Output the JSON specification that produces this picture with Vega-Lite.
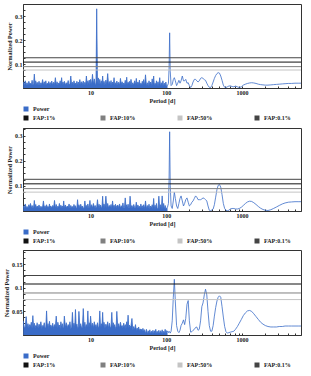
{
"$schema": "https://vega.github.io/schema/vega-lite/v6.json",
"padding": {"left": 3, "top": 3, "right": 2, "bottom": 1},
"spacing": 3,
"config": {
"font": "Liberation Serif",
"view": {"stroke": "#333", "strokeWidth": 1},
"axis": {"labelFont": "Liberation Serif", "labelFontWeight": "bold", "labelFontSize": 6, "titleFont": "Liberation Serif", "titleFontWeight": "bold", "titleFontSize": 6, "labelColor": "#222", "titleColor": "#222", "domainColor": "#333", "tickColor": "#333", "grid": false, "labelPadding": 3, "titlePadding": 2, "labelOverlap": false},
"legend": {"labelFont": "Liberation Serif", "labelFontWeight": "bold", "labelFontSize": 6, "labelColor": "#222", "symbolSize": 25, "labelOffset": 4, "rowPadding": 2, "columnPadding": 40, "gridAlign": "all", "orient": "bottom", "offset": 3, "padding": 0, "layout": {"bottom": {"anchor": "start", "direction": "vertical", "margin": 3}}}
},
"datasets": {
"fap": [{"f": "FAP:1%", "v": 0.108}, {"f": "FAP:10%", "v": 0.089}, {"f": "FAP:50%", "v": 0.075}, {"f": "FAP:0.1%", "v": 0.126}],
"pg": [
{"p":1.30,"a":0.025,"b":0.02,"c":0.03},{"p":1.34,"a":0.012,"b":0.012,"c":0.016},{"p":1.38,"a":0.03,"b":0.028,"c":0.017},{"p":1.42,"a":0.014,"b":0.014,"c":0.039},{"p":1.46,"a":0.022,"b":0.018,"c":0.017},{"p":1.50,"a":0.011,"b":0.011,"c":0.024},{"p":1.54,"a":0.028,"b":0.025,"c":0.015},{"p":1.58,"a":0.016,"b":0.015,"c":0.022},{"p":1.62,"a":0.02,"b":0.03,"c":0.018},{"p":1.66,"a":0.012,"b":0.012,"c":0.027},{"p":1.70,"a":0.032,"b":0.022,"c":0.014},{"p":1.74,"a":0.014,"b":0.014,"c":0.041},{"p":1.78,"a":0.018,"b":0.016,"c":0.016},{"p":1.82,"a":0.058,"b":0.042,"c":0.025},{"p":1.86,"a":0.013,"b":0.013,"c":0.015},{"p":1.90,"a":0.03,"b":0.026,"c":0.02},{"p":1.94,"a":0.012,"b":0.011,"c":0.017},{"p":1.98,"a":0.024,"b":0.02,"c":0.026},
{"p":2.04,"a":0.013,"b":0.014,"c":0.015},{"p":2.10,"a":0.028,"b":0.024,"c":0.023},{"p":2.16,"a":0.011,"b":0.011,"c":0.017},{"p":2.22,"a":0.022,"b":0.019,"c":0.028},{"p":2.28,"a":0.015,"b":0.015,"c":0.014},{"p":2.34,"a":0.035,"b":0.016,"c":0.02},{"p":2.40,"a":0.012,"b":0.04,"c":0.018},{"p":2.46,"a":0.026,"b":0.012,"c":0.026},{"p":2.52,"a":0.014,"b":0.021,"c":0.015},{"p":2.58,"a":0.03,"b":0.011,"c":0.016},{"p":2.64,"a":0.011,"b":0.025,"c":0.051},{"p":2.70,"a":0.02,"b":0.015,"c":0.016},{"p":2.76,"a":0.016,"b":0.018,"c":0.024},{"p":2.82,"a":0.027,"b":0.012,"c":0.014},{"p":2.88,"a":0.012,"b":0.028,"c":0.029},{"p":2.94,"a":0.023,"b":0.014,"c":0.017},{"p":3.00,"a":0.014,"b":0.02,"c":0.021},
{"p":3.09,"a":0.029,"b":0.012,"c":0.016},{"p":3.18,"a":0.012,"b":0.022,"c":0.025},{"p":3.27,"a":0.024,"b":0.014,"c":0.014},{"p":3.36,"a":0.015,"b":0.042,"c":0.022},{"p":3.45,"a":0.043,"b":0.011,"c":0.017},{"p":3.54,"a":0.011,"b":0.026,"c":0.04},{"p":3.63,"a":0.026,"b":0.013,"c":0.015},{"p":3.72,"a":0.013,"b":0.019,"c":0.027},{"p":3.81,"a":0.021,"b":0.015,"c":0.018},{"p":3.90,"a":0.016,"b":0.03,"c":0.021},{"p":3.99,"a":0.03,"b":0.012,"c":0.014},{"p":4.08,"a":0.012,"b":0.023,"c":0.028},{"p":4.17,"a":0.043,"b":0.014,"c":0.016},{"p":4.26,"a":0.014,"b":0.02,"c":0.024},{"p":4.35,"a":0.025,"b":0.011,"c":0.015},{"p":4.44,"a":0.011,"b":0.04,"c":0.017},{"p":4.53,"a":0.028,"b":0.013,"c":0.04},
{"p":4.67,"a":0.013,"b":0.024,"c":0.016},{"p":4.81,"a":0.022,"b":0.012,"c":0.026},{"p":4.95,"a":0.015,"b":0.02,"c":0.015},{"p":5.09,"a":0.031,"b":0.015,"c":0.022},{"p":5.23,"a":0.012,"b":0.028,"c":0.018},{"p":5.37,"a":0.017,"b":0.011,"c":0.028},{"p":5.51,"a":0.05,"b":0.022,"c":0.014},{"p":5.65,"a":0.014,"b":0.014,"c":0.017},{"p":5.79,"a":0.024,"b":0.018,"c":0.048},{"p":5.93,"a":0.011,"b":0.012,"c":0.016},{"p":6.07,"a":0.03,"b":0.026,"c":0.025},{"p":6.21,"a":0.016,"b":0.013,"c":0.015},{"p":6.35,"a":0.021,"b":0.021,"c":0.054},{"p":6.49,"a":0.013,"b":0.011,"c":0.017},{"p":6.63,"a":0.028,"b":0.014,"c":0.023},{"p":6.77,"a":0.012,"b":0.045,"c":0.014},{"p":6.91,"a":0.025,"b":0.014,"c":0.017},{"p":7.05,"a":0.014,"b":0.025,"c":0.05},
{"p":7.25,"a":0.035,"b":0.012,"c":0.017},{"p":7.45,"a":0.012,"b":0.027,"c":0.024},{"p":7.65,"a":0.026,"b":0.014,"c":0.015},{"p":7.85,"a":0.015,"b":0.02,"c":0.017},{"p":8.05,"a":0.029,"b":0.011,"c":0.056},{"p":8.25,"a":0.011,"b":0.013,"c":0.016},{"p":8.45,"a":0.024,"b":0.04,"c":0.027},{"p":8.65,"a":0.014,"b":0.013,"c":0.014},{"p":8.85,"a":0.05,"b":0.022,"c":0.022},{"p":9.05,"a":0.013,"b":0.012,"c":0.017},{"p":9.25,"a":0.03,"b":0.028,"c":0.051},{"p":9.45,"a":0.016,"b":0.015,"c":0.015},{"p":9.65,"a":0.033,"b":0.014,"c":0.026},{"p":9.85,"a":0.012,"b":0.042,"c":0.016},{"p":10.05,"a":0.036,"b":0.013,"c":0.04},
{"p":10.35,"a":0.014,"b":0.025,"c":0.016},{"p":10.65,"a":0.057,"b":0.012,"c":0.025},{"p":10.95,"a":0.016,"b":0.03,"c":0.015},{"p":11.25,"a":0.038,"b":0.014,"c":0.028},{"p":11.55,"a":0.018,"b":0.022,"c":0.017},{"p":11.85,"a":0.015,"b":0.011,"c":0.022},{"p":12.1,"a":0.33,"b":0.016,"c":0.014},{"p":12.4,"a":0.012,"b":0.045,"c":0.026},{"p":12.7,"a":0.042,"b":0.013,"c":0.016},{"p":13.0,"a":0.015,"b":0.027,"c":0.018},{"p":13.3,"a":0.036,"b":0.012,"c":0.051},{"p":13.6,"a":0.013,"b":0.024,"c":0.015},{"p":13.9,"a":0.03,"b":0.015,"c":0.024},{"p":14.2,"a":0.012,"b":0.014,"c":0.017},{"p":14.5,"a":0.05,"b":0.059,"c":0.048},{"p":14.8,"a":0.014,"b":0.013,"c":0.016},{"p":15.1,"a":0.028,"b":0.028,"c":0.027},
{"p":15.55,"a":0.013,"b":0.014,"c":0.015},{"p":16.0,"a":0.033,"b":0.059,"c":0.023},{"p":16.45,"a":0.015,"b":0.013,"c":0.017},{"p":16.9,"a":0.06,"b":0.03,"c":0.028},{"p":17.35,"a":0.012,"b":0.012,"c":0.014},{"p":17.8,"a":0.027,"b":0.022,"c":0.025},{"p":18.25,"a":0.014,"b":0.015,"c":0.016},{"p":18.7,"a":0.031,"b":0.026,"c":0.018},{"p":19.15,"a":0.011,"b":0.011,"c":0.048},{"p":19.6,"a":0.025,"b":0.04,"c":0.015},{"p":20.05,"a":0.016,"b":0.014,"c":0.026},{"p":20.5,"a":0.043,"b":0.023,"c":0.017},{"p":20.95,"a":0.013,"b":0.012,"c":0.022},{"p":21.4,"a":0.022,"b":0.027,"c":0.014},{"p":21.85,"a":0.012,"b":0.013,"c":0.017},{"p":22.3,"a":0.029,"b":0.02,"c":0.05},
{"p":22.95,"a":0.014,"b":0.024,"c":0.016},{"p":23.6,"a":0.024,"b":0.013,"c":0.024},{"p":24.25,"a":0.011,"b":0.028,"c":0.014},{"p":24.9,"a":0.04,"b":0.011,"c":0.027},{"p":25.55,"a":0.015,"b":0.021,"c":0.017},{"p":26.2,"a":0.026,"b":0.014,"c":0.02},{"p":26.85,"a":0.012,"b":0.032,"c":0.015},{"p":27.5,"a":0.021,"b":0.012,"c":0.025},{"p":28.15,"a":0.014,"b":0.015,"c":0.016},{"p":28.8,"a":0.032,"b":0.052,"c":0.022},{"p":29.45,"a":0.011,"b":0.013,"c":0.014},{"p":30.1,"a":0.045,"b":0.025,"c":0.028},{"p":30.75,"a":0.013,"b":0.011,"c":0.017},{"p":31.4,"a":0.024,"b":0.027,"c":0.042},{"p":32.05,"a":0.016,"b":0.014,"c":0.015},{"p":32.7,"a":0.028,"b":0.012,"c":0.021},{"p":33.35,"a":0.012,"b":0.059,"c":0.016},
{"p":34.3,"a":0.036,"b":0.013,"c":0.02},{"p":35.3,"a":0.013,"b":0.022,"c":0.035},{"p":36.3,"a":0.022,"b":0.012,"c":0.01},{"p":37.3,"a":0.011,"b":0.026,"c":0.018},{"p":38.3,"a":0.03,"b":0.014,"c":0.011},{"p":39.3,"a":0.014,"b":0.013,"c":0.022},{"p":40.3,"a":0.04,"b":0.035,"c":0.009},{"p":41.3,"a":0.012,"b":0.011,"c":0.015},{"p":42.3,"a":0.025,"b":0.024,"c":0.01},{"p":43.3,"a":0.015,"b":0.014,"c":0.017},{"p":44.3,"a":0.033,"b":0.019,"c":0.009},{"p":45.3,"a":0.011,"b":0.012,"c":0.013},{"p":46.3,"a":0.02,"b":0.028,"c":0.01},{"p":47.3,"a":0.013,"b":0.013,"c":0.012},{"p":48.3,"a":0.028,"b":0.021,"c":0.009},{"p":49.3,"a":0.012,"b":0.011,"c":0.014},{"p":50.3,"a":0.035,"b":0.025,"c":0.009},
{"p":51.8,"a":0.011,"b":0.01,"c":0.011},{"p":53.3,"a":0.055,"b":0.04,"c":0.003},{"p":54.8,"a":0.01,"b":0.009,"c":0.012},{"p":56.3,"a":0.022,"b":0.022,"c":0.002},{"p":57.8,"a":0.008,"b":0.011,"c":0.009},{"p":59.3,"a":0.03,"b":0.027,"c":0.004},{"p":60.8,"a":0.012,"b":0.008,"c":0.011},{"p":62.3,"a":0.025,"b":0.02,"c":0.002},{"p":63.8,"a":0.009,"b":0.012,"c":0.008},{"p":65.3,"a":0.038,"b":0.025,"c":0.003},{"p":66.8,"a":0.013,"b":0.009,"c":0.01},{"p":68.3,"a":0.05,"b":0.05,"c":0.002},{"p":69.8,"a":0.008,"b":0.01,"c":0.009},{"p":71.3,"a":0.02,"b":0.023,"c":0.003},{"p":72.8,"a":0.01,"b":0.008,"c":0.012},{"p":74.3,"a":0.03,"b":0.03,"c":0.002},{"p":75.8,"a":0.009,"b":0.011,"c":0.008},
{"p":77.9,"a":0.026,"b":0.008,"c":0.003},{"p":80.0,"a":0.009,"b":0.059,"c":0.01},{"p":82.1,"a":0.043,"b":0.007,"c":0.002},{"p":84.2,"a":0.007,"b":0.025,"c":0.009},{"p":86.3,"a":0.022,"b":0.009,"c":0.003},{"p":88.4,"a":0.01,"b":0.06,"c":0.011},{"p":90.5,"a":0.03,"b":0.008,"c":0.002},{"p":92.6,"a":0.006,"b":0.03,"c":0.008},{"p":94.7,"a":0.02,"b":0.007,"c":0.003},{"p":96.8,"a":0.008,"b":0.022,"c":0.012},{"p":98.9,"a":0.025,"b":0.009,"c":0.002},{"p":101.0,"a":0.007,"b":0.012,"c":0.009},
{"p":104,"a":0.01,"b":0.015,"c":0.008},{"p":107,"a":0.02,"b":0.03,"c":0.005},{"p":109,"a":0.08,"b":0.12,"c":0.008},{"p":111,"a":0.23,"b":0.315,"c":0.006},{"p":113,"a":0.07,"b":0.1,"c":0.004},{"p":116,"a":0.01,"b":0.02,"c":0.008},{"p":120,"a":0.015,"b":0.01,"c":0.03},{"p":124,"a":0.035,"b":0.04,"c":0.08},{"p":128,"a":0.043,"b":0.075,"c":0.118},{"p":132,"a":0.03,"b":0.05,"c":0.07},{"p":137,"a":0.01,"b":0.02,"c":0.02},{"p":142,"a":0.02,"b":0.01,"c":0.008},{"p":147,"a":0.032,"b":0.03,"c":0.005},{"p":152,"a":0.02,"b":0.05,"c":0.01},{"p":157,"a":0.03,"b":0.06,"c":0.02},{"p":163,"a":0.05,"b":0.04,"c":0.025},{"p":169,"a":0.03,"b":0.02,"c":0.032},{"p":175,"a":0.03,"b":0.03,"c":0.022},{"p":181,"a":0.036,"b":0.045,"c":0.035},{"p":188,"a":0.02,"b":0.052,"c":0.065},{"p":195,"a":0.022,"b":0.035,"c":0.073},{"p":202,"a":0.01,"b":0.02,"c":0.03},{"p":210,"a":0.002,"b":0.025,"c":0.006},{"p":218,"a":0.01,"b":0.035,"c":0.007},{"p":226,"a":0.025,"b":0.04,"c":0.01},{"p":235,"a":0.036,"b":0.05,"c":0.012},{"p":244,"a":0.036,"b":0.06,"c":0.016},{"p":253,"a":0.03,"b":0.055,"c":0.017},{"p":263,"a":0.025,"b":0.045,"c":0.01},{"p":273,"a":0.03,"b":0.045,"c":0.012},{"p":284,"a":0.04,"b":0.045,"c":0.03},{"p":295,"a":0.043,"b":0.048,"c":0.06},{"p":306,"a":0.04,"b":0.052,"c":0.068},{"p":318,"a":0.035,"b":0.05,"c":0.085},{"p":330,"a":0.032,"b":0.045,"c":0.097},{"p":343,"a":0.02,"b":0.04,"c":0.085},{"p":356,"a":0.01,"b":0.02,"c":0.05},{"p":370,"a":0.003,"b":0.003,"c":0.02},{"p":385,"a":0.002,"b":0.001,"c":0.008},{"p":400,"a":0.01,"b":0.004,"c":0.008},{"p":416,"a":0.025,"b":0.008,"c":0.02},{"p":432,"a":0.04,"b":0.025,"c":0.04},{"p":449,"a":0.052,"b":0.055,"c":0.058},{"p":467,"a":0.06,"b":0.085,"c":0.072},{"p":485,"a":0.064,"b":0.102,"c":0.08},{"p":504,"a":0.062,"b":0.105,"c":0.083},{"p":524,"a":0.05,"b":0.095,"c":0.08},{"p":545,"a":0.032,"b":0.065,"c":0.06},{"p":567,"a":0.012,"b":0.03,"c":0.038},{"p":590,"a":0.003,"b":0.01,"c":0.018},{"p":614,"a":0.002,"b":0.003,"c":0.007},{"p":640,"a":0.005,"b":0.001,"c":0.004},{"p":670,"a":0.008,"b":0.003,"c":0.005},{"p":700,"a":0.009,"b":0.008,"c":0.006},{"p":740,"a":0.006,"b":0.01,"c":0.007},{"p":780,"a":0.005,"b":0.01,"c":0.008},{"p":820,"a":0.008,"b":0.008,"c":0.012},{"p":870,"a":0.005,"b":0.008,"c":0.018},{"p":920,"a":0.002,"b":0.01,"c":0.025},{"p":980,"a":0.005,"b":0.015,"c":0.033},{"p":1040,"a":0.012,"b":0.022,"c":0.041},{"p":1110,"a":0.016,"b":0.03,"c":0.047},{"p":1180,"a":0.019,"b":0.036,"c":0.051},{"p":1260,"a":0.021,"b":0.039,"c":0.052},{"p":1340,"a":0.022,"b":0.038,"c":0.05},{"p":1430,"a":0.021,"b":0.033,"c":0.045},{"p":1530,"a":0.019,"b":0.026,"c":0.039},{"p":1640,"a":0.016,"b":0.018,"c":0.033},{"p":1760,"a":0.014,"b":0.011,"c":0.027},{"p":1890,"a":0.013,"b":0.006,"c":0.023},{"p":2030,"a":0.012,"b":0.003,"c":0.02},{"p":2200,"a":0.012,"b":0.002,"c":0.018},{"p":2400,"a":0.013,"b":0.005,"c":0.017},{"p":2600,"a":0.014,"b":0.01,"c":0.017},{"p":2850,"a":0.015,"b":0.016,"c":0.017},{"p":3100,"a":0.016,"b":0.022,"c":0.018},{"p":3400,"a":0.017,"b":0.028,"c":0.018},{"p":3700,"a":0.018,"b":0.032,"c":0.019},{"p":4100,"a":0.019,"b":0.035,"c":0.019},{"p":4500,"a":0.019,"b":0.036,"c":0.019},{"p":5000,"a":0.02,"b":0.037,"c":0.019},{"p":5500,"a":0.02,"b":0.037,"c":0.019},{"p":6000,"a":0.02,"b":0.037,"c":0.019}
]
},
"vconcat": [
{
"width": 278, "height": 84,
"layer": [
{"data": {"name": "pg"}, "mark": {"type": "line", "strokeWidth": 0.8, "clip": true},
"encoding": {
"x": {"field": "p", "type": "quantitative", "title": "Period [d]", "scale": {"type": "log", "domain": [1.29, 6000], "nice": false}, "axis": {"values": [2,3,4,5,6,7,8,9,10,20,30,40,50,60,70,80,90,100,200,300,400,500,600,700,800,900,1000,2000,3000,4000,5000], "labelExpr": "datum.value == 10 ? '10' : datum.value == 100 ? '100' : datum.value == 1000 ? '1000' : ''", "tickSize": -2, "labelOverlap": false}},
"y": {"field": "a", "type": "quantitative", "title": "Normalized Power", "scale": {"domain": [0, 0.35], "nice": false}, "axis": {"values": [0.025,0.05,0.075,0.1,0.125,0.15,0.175,0.2,0.225,0.25,0.275,0.3,0.325], "labelExpr": "datum.value == 0.1 ? '0.1' : datum.value == 0.2 ? '0.2' : datum.value == 0.3 ? '0.3' : ''", "tickSize": -2, "labelOverlap": false}},
"color": {"datum": "Power", "scale": {"domain": ["Power"], "range": ["#3a6cc8"]}, "legend": {"title": null, "symbolType": "square", "symbolStrokeWidth": 0, "encode": {"symbols": {"update": {"fill": {"value": "#3a6cc8"}}}}}}
}},
{"data": {"name": "pg"}, "transform": [{"filter": {"field": "p", "lte": 104}}], "mark": {"type": "area", "color": "#3a6cc8", "opacity": 1, "clip": true},
"encoding": {
"x": {"field": "p", "type": "quantitative", "title": "Period [d]", "axis": {"values": [2,3,4,5,6,7,8,9,10,20,30,40,50,60,70,80,90,100,200,300,400,500,600,700,800,900,1000,2000,3000,4000,5000], "labelExpr": "datum.value == 10 ? '10' : datum.value == 100 ? '100' : datum.value == 1000 ? '1000' : ''", "tickSize": -2, "labelOverlap": false}},
"y": {"field": "a", "type": "quantitative", "title": "Normalized Power", "axis": {"values": [0.025,0.05,0.075,0.1,0.125,0.15,0.175,0.2,0.225,0.25,0.275,0.3,0.325], "labelExpr": "datum.value == 0.1 ? '0.1' : datum.value == 0.2 ? '0.2' : datum.value == 0.3 ? '0.3' : ''", "tickSize": -2, "labelOverlap": false}}
}},
{"data": {"name": "fap"}, "mark": {"type": "rule", "strokeWidth": 1},
"encoding": {
"y": {"field": "v", "type": "quantitative", "title": "Normalized Power", "axis": {"values": [0.025,0.05,0.075,0.1,0.125,0.15,0.175,0.2,0.225,0.25,0.275,0.3,0.325], "labelExpr": "datum.value == 0.1 ? '0.1' : datum.value == 0.2 ? '0.2' : datum.value == 0.3 ? '0.3' : ''", "tickSize": -2, "labelOverlap": false}},
"fill": {"field": "f", "type": "nominal", "scale": {"domain": ["FAP:1%", "FAP:10%", "FAP:50%", "FAP:0.1%"], "range": ["#111111", "#808080", "#c4c4c4", "#444444"]}, "legend": {"title": null, "columns": 4, "symbolType": "square", "symbolStrokeWidth": 0}},
"stroke": {"field": "f", "type": "nominal", "scale": {"domain": ["FAP:1%", "FAP:10%", "FAP:50%", "FAP:0.1%"], "range": ["#111111", "#808080", "#c4c4c4", "#444444"]}, "legend": null}
}}
]
},
{
"width": 278, "height": 83,
"layer": [
{"data": {"name": "pg"}, "mark": {"type": "line", "strokeWidth": 0.8, "clip": true},
"encoding": {
"x": {"field": "p", "type": "quantitative", "title": "Period [d]", "scale": {"type": "log", "domain": [1.29, 6000], "nice": false}, "axis": {"values": [2,3,4,5,6,7,8,9,10,20,30,40,50,60,70,80,90,100,200,300,400,500,600,700,800,900,1000,2000,3000,4000,5000], "labelExpr": "datum.value == 10 ? '10' : datum.value == 100 ? '100' : datum.value == 1000 ? '1000' : ''", "tickSize": -2, "labelOverlap": false}},
"y": {"field": "b", "type": "quantitative", "title": "Normalized Power", "scale": {"domain": [0, 0.33], "nice": false}, "axis": {"values": [0.025,0.05,0.075,0.1,0.125,0.15,0.175,0.2,0.225,0.25,0.275,0.3,0.325], "labelExpr": "datum.value == 0.1 ? '0.1' : datum.value == 0.2 ? '0.2' : datum.value == 0.3 ? '0.3' : ''", "tickSize": -2, "labelOverlap": false}},
"color": {"datum": "Power", "scale": {"domain": ["Power"], "range": ["#3a6cc8"]}, "legend": {"title": null, "symbolType": "square", "symbolStrokeWidth": 0, "encode": {"symbols": {"update": {"fill": {"value": "#3a6cc8"}}}}}}
}},
{"data": {"name": "pg"}, "transform": [{"filter": {"field": "p", "lte": 104}}], "mark": {"type": "area", "color": "#3a6cc8", "opacity": 1, "clip": true},
"encoding": {
"x": {"field": "p", "type": "quantitative", "title": "Period [d]", "axis": {"values": [2,3,4,5,6,7,8,9,10,20,30,40,50,60,70,80,90,100,200,300,400,500,600,700,800,900,1000,2000,3000,4000,5000], "labelExpr": "datum.value == 10 ? '10' : datum.value == 100 ? '100' : datum.value == 1000 ? '1000' : ''", "tickSize": -2, "labelOverlap": false}},
"y": {"field": "b", "type": "quantitative", "title": "Normalized Power", "axis": {"values": [0.025,0.05,0.075,0.1,0.125,0.15,0.175,0.2,0.225,0.25,0.275,0.3,0.325], "labelExpr": "datum.value == 0.1 ? '0.1' : datum.value == 0.2 ? '0.2' : datum.value == 0.3 ? '0.3' : ''", "tickSize": -2, "labelOverlap": false}}
}},
{"data": {"name": "fap"}, "mark": {"type": "rule", "strokeWidth": 1},
"encoding": {
"y": {"field": "v", "type": "quantitative", "title": "Normalized Power", "axis": {"values": [0.025,0.05,0.075,0.1,0.125,0.15,0.175,0.2,0.225,0.25,0.275,0.3,0.325], "labelExpr": "datum.value == 0.1 ? '0.1' : datum.value == 0.2 ? '0.2' : datum.value == 0.3 ? '0.3' : ''", "tickSize": -2, "labelOverlap": false}},
"fill": {"field": "f", "type": "nominal", "scale": {"domain": ["FAP:1%", "FAP:10%", "FAP:50%", "FAP:0.1%"], "range": ["#111111", "#808080", "#c4c4c4", "#444444"]}, "legend": {"title": null, "columns": 4, "symbolType": "square", "symbolStrokeWidth": 0}},
"stroke": {"field": "f", "type": "nominal", "scale": {"domain": ["FAP:1%", "FAP:10%", "FAP:50%", "FAP:0.1%"], "range": ["#111111", "#808080", "#c4c4c4", "#444444"]}, "legend": null}
}}
]
},
{
"width": 278, "height": 85,
"layer": [
{"data": {"name": "pg"}, "mark": {"type": "line", "strokeWidth": 0.8, "clip": true},
"encoding": {
"x": {"field": "p", "type": "quantitative", "title": "Period [d]", "scale": {"type": "log", "domain": [1.29, 6000], "nice": false}, "axis": {"values": [2,3,4,5,6,7,8,9,10,20,30,40,50,60,70,80,90,100,200,300,400,500,600,700,800,900,1000,2000,3000,4000,5000], "labelExpr": "datum.value == 10 ? '10' : datum.value == 100 ? '100' : datum.value == 1000 ? '1000' : ''", "tickSize": -2, "labelOverlap": false}},
"y": {"field": "c", "type": "quantitative", "title": "Normalized Power", "scale": {"domain": [0, 0.18], "nice": false}, "axis": {"values": [0.0125,0.025,0.0375,0.05,0.0625,0.075,0.0875,0.1,0.1125,0.125,0.1375,0.15,0.1625,0.175], "labelExpr": "datum.value == 0.05 ? '0.05' : datum.value == 0.1 ? '0.1' : datum.value == 0.15 ? '0.15' : ''", "tickSize": -2, "labelOverlap": false}},
"color": {"datum": "Power", "scale": {"domain": ["Power"], "range": ["#3a6cc8"]}, "legend": {"title": null, "symbolType": "square", "symbolStrokeWidth": 0, "encode": {"symbols": {"update": {"fill": {"value": "#3a6cc8"}}}}}}
}},
{"data": {"name": "pg"}, "transform": [{"filter": {"field": "p", "lte": 104}}], "mark": {"type": "area", "color": "#3a6cc8", "opacity": 1, "clip": true},
"encoding": {
"x": {"field": "p", "type": "quantitative", "title": "Period [d]", "axis": {"values": [2,3,4,5,6,7,8,9,10,20,30,40,50,60,70,80,90,100,200,300,400,500,600,700,800,900,1000,2000,3000,4000,5000], "labelExpr": "datum.value == 10 ? '10' : datum.value == 100 ? '100' : datum.value == 1000 ? '1000' : ''", "tickSize": -2, "labelOverlap": false}},
"y": {"field": "c", "type": "quantitative", "title": "Normalized Power", "axis": {"values": [0.0125,0.025,0.0375,0.05,0.0625,0.075,0.0875,0.1,0.1125,0.125,0.1375,0.15,0.1625,0.175], "labelExpr": "datum.value == 0.05 ? '0.05' : datum.value == 0.1 ? '0.1' : datum.value == 0.15 ? '0.15' : ''", "tickSize": -2, "labelOverlap": false}}
}},
{"data": {"name": "fap"}, "mark": {"type": "rule", "strokeWidth": 1},
"encoding": {
"y": {"field": "v", "type": "quantitative", "title": "Normalized Power", "axis": {"values": [0.0125,0.025,0.0375,0.05,0.0625,0.075,0.0875,0.1,0.1125,0.125,0.1375,0.15,0.1625,0.175], "labelExpr": "datum.value == 0.05 ? '0.05' : datum.value == 0.1 ? '0.1' : datum.value == 0.15 ? '0.15' : ''", "tickSize": -2, "labelOverlap": false}},
"fill": {"field": "f", "type": "nominal", "scale": {"domain": ["FAP:1%", "FAP:10%", "FAP:50%", "FAP:0.1%"], "range": ["#111111", "#808080", "#c4c4c4", "#444444"]}, "legend": {"title": null, "columns": 4, "symbolType": "square", "symbolStrokeWidth": 0}},
"stroke": {"field": "f", "type": "nominal", "scale": {"domain": ["FAP:1%", "FAP:10%", "FAP:50%", "FAP:0.1%"], "range": ["#111111", "#808080", "#c4c4c4", "#444444"]}, "legend": null}
}}
]
}
],
"resolve": {"scale": {"color": "independent", "fill": "independent", "stroke": "independent", "y": "independent", "x": "independent"}, "legend": {"color": "independent", "fill": "independent"}}
}
